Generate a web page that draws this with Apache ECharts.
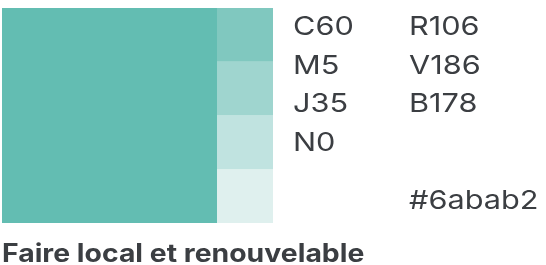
<!DOCTYPE html>
<html>
<head>
<meta charset="utf-8">
<style>
  html, body { margin: 0; padding: 0; background: #fff; }
  #swatch { width: 546px; height: 265px; }
</style>
<script src="https://cdn.jsdelivr.net/npm/echarts@6/dist/echarts.min.js"></script>
</head>
<body>
<div id="swatch"></div>
<script>
// couleur principale + teintes (de haut en bas)
var mainName = 'Faire local et renouvelable';
var mainColor = '#63bdb2';
var mainValue = [4];
var tintNames = ['80%', '60%', '40%', '20%'];
var tintColors = ['#80c8bf', '#9fd5cf', '#c0e3e0', '#dff0ee'];
var tintValues = [1, 1, 1, 1];
// valeurs de la fiche couleur
var cmykLabels = ['C60', 'M5', 'J35', 'N0'];
var rgbLabels = ['R106', 'V186', 'B178'];
var hexLabel = '#6abab2';

var textColor = '#3b3e42';
var font = 'Inter, "Noto Sans", sans-serif';

var chart = echarts.init(document.getElementById('swatch'));

// les teintes sont empilees du bas vers le haut
var tintSeries = [];
for (var i = tintNames.length - 1; i >= 0; i--) {
  tintSeries.push({
    name: tintNames[i],
    type: 'bar',
    stack: 'tints',
    xAxisIndex: 1,
    yAxisIndex: 1,
    barWidth: '100%',
    data: [tintValues[i]],
    itemStyle: { color: tintColors[i] },
    silent: true
  });
}

// texte un peu elargi comme sur la fiche
function label(t, x, y, f, sx) {
  return { type: 'text', x: x, y: y, scaleX: sx,
    style: { text: t, font: f, fill: textColor, verticalAlign: 'top' } };
}
var graphics = [];
cmykLabels.forEach(function (t, i) {
  graphics.push(label(t, 293, 14 + i * 38.7, '26px ' + font, 1.18));
});
rgbLabels.forEach(function (t, i) {
  graphics.push(label(t, 409, 14 + i * 38.7, '26px ' + font, 1.18));
});
graphics.push(label(hexLabel, 409, 188, '26px ' + font, 1.18));
graphics.push(label(mainName, 2, 242, 'bold 25px ' + font, 1.135));

var option = {
  animation: false,
  grid: [
    { left: 2, top: 8, width: 215, height: 215 },
    { left: 217, top: 8, width: 56, height: 215 }
  ],
  xAxis: [
    { type: 'category', gridIndex: 0, data: [mainName], show: false },
    { type: 'category', gridIndex: 1, data: ['teintes'], show: false }
  ],
  yAxis: [
    { type: 'value', gridIndex: 0, min: 0, max: 4, show: false },
    { type: 'value', gridIndex: 1, min: 0, max: 4, show: false }
  ],
  series: [{
    name: mainName,
    type: 'bar',
    barWidth: '100%',
    data: mainValue,
    itemStyle: { color: mainColor },
    silent: true
  }].concat(tintSeries),
  graphic: graphics
};
chart.setOption(option);
</script>
</body>
</html>
